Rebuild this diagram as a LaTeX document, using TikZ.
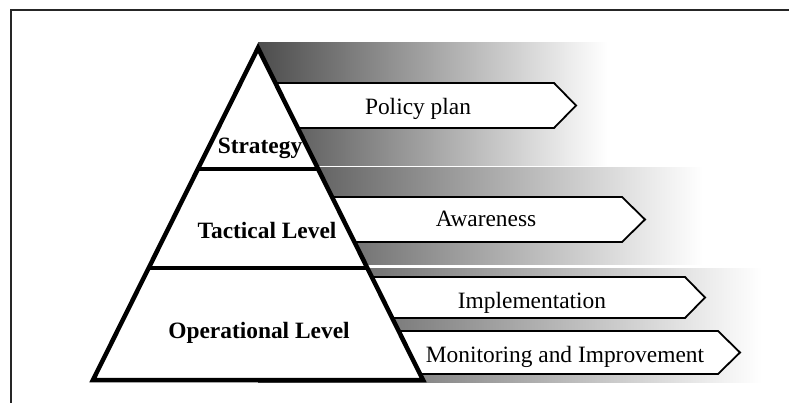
\documentclass[tikz,border=0pt]{standalone}
\usepackage{fontspec}
\setmainfont{Liberation Serif}
\usetikzlibrary{calc}
\begin{document}
\begin{tikzpicture}[x=1pt,y=-1pt,
  band/.style={left color=black!70,right color=white,draw=none},
  arrowbox/.style={draw=black,line width=1.8pt,fill=white,line join=miter},
  lvl/.style={font=\fontsize{23.4}{27}\selectfont\bfseries,anchor=base,inner sep=0pt},
  tag/.style={font=\fontsize{23.4}{27}\selectfont,anchor=base,inner sep=0pt}]
  \useasboundingbox (0,0) rectangle (789,403);
  % frame
  \draw[line width=1.5pt,black!85] (11,403) -- (11,10) -- (789,10);

  % shaded bands behind the pyramid
  \shade[band] (258,43) rectangle (607,166);
  \shade[band] (258,168) rectangle (703,264);
  \shade[band] (258,268) rectangle (762,382);

  % arrow boxes
  \draw[arrowbox] (258,83) -- (554,83) -- (576,105.5) -- (554,128) -- (258,128) -- cycle;
  \draw[arrowbox] (258,197) -- (622,197) -- (645,219.5) -- (622,242) -- (258,242) -- cycle;
  \draw[arrowbox] (258,277) -- (685,277) -- (705,297.5) -- (685,318) -- (258,318) -- cycle;
  \draw[arrowbox] (258,331) -- (718,331) -- (740,352.5) -- (718,374) -- (258,374) -- cycle;

  % pyramid
  \coordinate (apex) at (258,48);
  \coordinate (bl) at (93,380);
  \coordinate (br) at (423,380);
  \draw[line width=4.5pt,fill=white,line join=miter] (apex) -- (br) -- (bl) -- cycle;
  \draw[line width=4.5pt] ($(apex)!0.3645!(bl)$) -- ($(apex)!0.3645!(br)$);
  \draw[line width=4.5pt] ($(apex)!0.6627!(bl)$) -- ($(apex)!0.6627!(br)$);

  % level names
  \node[lvl] (strategy) at (260,154) {Strategy};
  \node[lvl] (tactical) at (267,239) {Tactical Level};
  \node[lvl] (operational) at (259,338) {Operational Level};

  % arrow texts
  \node[tag] (policy) at (418,115) {Policy plan};
  \node[tag] (awareness) at (486,227) {Awareness};
  \node[tag] (implementation) at (532,308) {Implementation};
  \node[tag] (monitoring) at (565,362) {Monitoring and Improvement};
\end{tikzpicture}
\end{document}
